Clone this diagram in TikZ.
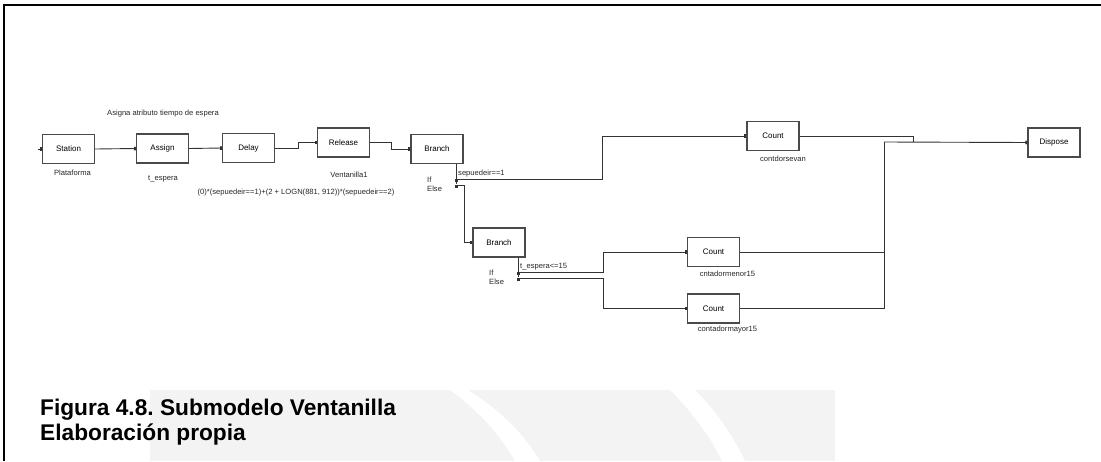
\documentclass[tikz,border=0pt]{standalone}
\usepackage{fontspec}
\setmainfont{Liberation Sans}
\usetikzlibrary{arrows.meta}
\frenchspacing
\definecolor{wire}{HTML}{333333}
\definecolor{edge}{HTML}{4A4A4A}
\definecolor{emblemgray}{HTML}{F3F3F3}
\begin{document}
\begin{tikzpicture}[x=1pt,y=-1pt,
  block/.style={draw=edge,line width=1.3pt,fill=white,minimum width=52pt,minimum height=29pt,
    inner sep=0pt,font=\fontsize{8}{9}\selectfont},
  link/.style={draw=wire,line width=0.9pt,-{Rectangle[length=2pt,width=3.5pt]}},
  plain/.style={draw=wire,line width=0.9pt},
  lbl/.style={font=\fontsize{7.6}{9}\selectfont,inner sep=0pt,text=black!85}]
\useasboundingbox (0,0) rectangle (1101,461);
% faint emblem in the background
\fill[emblemgray] (150,390) rectangle (835,461);
\fill[white] (468,390) .. controls (500,410) and (525,435) .. (540,461) -- (515,461)
  .. controls (500,435) and (480,412) .. (450,390) -- cycle;
\fill[white] (670,390) -- (695,390) .. controls (720,415) and (735,440) .. (745,461) -- (722,461)
  .. controls (712,440) and (695,415) .. cycle;
% frame
\draw[line width=2pt,black] (4,461) -- (4,5) -- (1101,5);
% blocks
\node[block] (station) at (68.5,149) {Station};
\node[block] (assign)  at (162.5,148.5) {Assign};
\node[block] (delay)   at (248.5,148) {Delay};
\node[block] (release) at (343.5,142.5) {Release};
\node[block] (branchA) at (437,149) {Branch};
\node[block] (countA)  at (773,136) {Count};
\node[block] (dispose) at (1054,142.5) {Dispose};
\node[block] (branchB) at (499,242.5) {Branch};
\node[block] (countB)  at (713.5,252) {Count};
\node[block] (countC)  at (713.5,308.5) {Count};
% texts
\node[lbl] (tasg) at (163,114) {Asigna atributo tiempo de espera};
\node[lbl] (tpla) at (72.5,173) {Plataforma};
\node[lbl] (tesp) at (163,179) {t\_espera};
\node[lbl] (tfor) at (296,193) {(0)*(sepuedeir==1)+(2 + LOGN(881, 912))*(sepuedeir==2)};
\node[lbl] (tven) at (349,175) {Ventanilla1};
\node[lbl,anchor=west,align=left] (tifA) at (427,184.5) {If\\Else};
\node[lbl] (tcsv) at (783,159) {contdorsevan};
\node[lbl,anchor=west,align=left] (tifB) at (489,277) {If\\Else};
\node[lbl] (tmen) at (727.5,274) {cntadormenor15};
\node[lbl] (tmay) at (727.5,330) {contadormayor15};
% branch ports
\coordinate (ifA) at (456,179);
\coordinate (elA) at (456,185);
\coordinate (ifB) at (518,272);
\coordinate (elB) at (518,278);
\coordinate (jn) at (884,142);
% connectors
\draw[link] (38,149) -- (station.west);
\draw[link] (station.east) -- (assign.west);
\draw[link] (assign.east) -- (delay.west);
\draw[link] (delay.east) -- ++(23,0) |- (release.west);
\draw[link] (release.east) -- ++(21,0) |- (branchA.west);
\draw[plain] (branchA.south -| ifA) -- ([yshift=1pt]elA);
\draw[link] (ifA) -- ++(146,0) |- (countA.west);
\draw[link] (elA) -- ++(8,0) |- (branchB.west);
\draw[plain] (branchB.south -| ifB) -- ([yshift=1pt]elB);
\draw[link] (ifB) -- ++(85,0) |- (countB.west);
\draw[link] (elB) -- ++(85,0) |- (countC.west);
\draw[plain] (countB.east) -- (countB.east -| jn);
\draw[plain] (countC.east) -| (jn);
\draw[link] (jn) -- (dispose.west);
\draw[plain] (countA.east) -- ++(114,0) -- ++(0,6);
\fill[wire] ([xshift=-1pt]ifA) rectangle ++(2.5,2.5);
\fill[wire] ([xshift=-1pt]elA) rectangle ++(2.5,2.5);
\fill[wire] ([xshift=-1pt]ifB) rectangle ++(2.5,2.5);
\fill[wire] ([xshift=-1pt]elB) rectangle ++(2.5,2.5);
% port labels sit on the lines
\node[lbl,anchor=south west] (cA) at ([xshift=2pt,yshift=2pt]ifA) {sepuedeir==1};
\node[lbl,anchor=south west] (cB) at ([xshift=2pt,yshift=2pt]ifB) {t\_espera<=15};
% caption
\node[anchor=north west,align=left,inner sep=0pt,font=\bfseries\fontsize{22.7}{25}\selectfont] (cap)
  at (40,399) {Figura 4.8. Submodelo Ventanilla\\Elaboración propia};
\end{tikzpicture}
\end{document}
